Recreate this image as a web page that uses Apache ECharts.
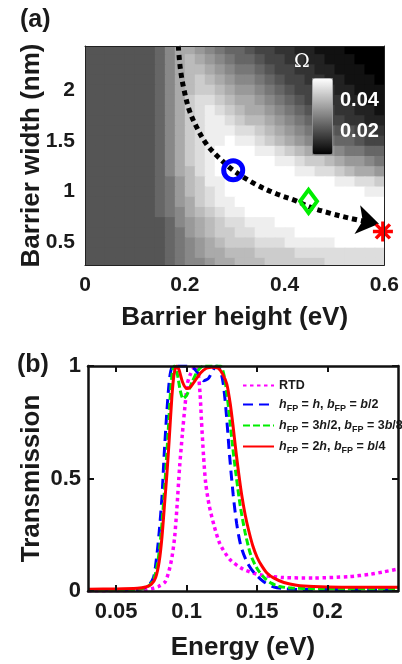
<!DOCTYPE html>
<html>
<head>
<meta charset="utf-8">
<script src="https://cdn.jsdelivr.net/npm/echarts@6/dist/echarts.min.js"></script>
<style>
  html, body { margin: 0; padding: 0; background: #fff; }
  #chart { width: 402px; height: 664px; }
</style>
</head>
<body>
<div id="chart"></div>
<script>
// ─── (a) Ω map over barrier height / barrier width ───────────────

// cell centres of the map
const H_COLS = [0.01, 0.03, 0.05, 0.07, 0.09, 0.11, 0.13, 0.15, 0.17, 0.19,
                0.21, 0.23, 0.25, 0.27, 0.29, 0.31, 0.33, 0.35, 0.37, 0.39,
                0.41, 0.43, 0.45, 0.47, 0.49, 0.51, 0.53, 0.55, 0.57, 0.59];
const B_ROWS = [2.4, 2.3, 2.2, 2.1, 2.0, 1.9, 1.8, 1.7, 1.6, 1.5, 1.4,
                1.3, 1.2, 1.1, 1.0, 0.9, 0.8, 0.7, 0.6, 0.5, 0.4, 0.3];

// Ω, one hex digit per cell (0 = OMEGA_MIN … F = OMEGA_MAX)
const OMEGA_ROWS = [
  "555555568AA9876654433221110000",
  "555555568ABA987665443322111000",
  "555555568ABBA98776544332211100",
  "555555568ABCBA9887654433221110",
  "555555568ABCCBA998765443322111",
  "555555568ACDDCBAA9876544332211",
  "555555568ACDEDCBAA987654433221",
  "555555568ACDEEDCBBA98765443322",
  "555555568ACDEEEDDCBA9877655443",
  "555555568ACDEEFEEDCBA988766544",
  "555555568ACDEFFFFEEDCBA9987766",
  "555555568ACDEFFFFFFEEDCCBA9987",
  "555555568ABDEFFFFFFFFEEDDCBAA9",
  "5555555679BCEEFFFFFFFFFFFEEDDC",
  "5555555679BCDEFFFFFFFFFFFFFFEE",
  "5555555679ACDEEFFFFFFFFFFFFFFF",
  "5555555678ABCDEEFFFFFFFFFFFFFF",
  "55555555689ABCDDEEEFFFFFFFFFFF",
  "55555555679ABCCDDEEEEFFFFFFFFF",
  "555555556789ABCCCDDDEEEEEFFFFF",
  "555555556789AABBBCCCCDDDDDDDDD",
  "5555555567889AABBBCCCCCCDDDDDD",
];
const OMEGA_MIN = 0.006;
const OMEGA_MAX = 0.054;
const OMEGA_TICKS = [0.02, 0.04];

// dotted path of the optimum (barrier height eV, barrier width nm)
const PATH_H = [0.187, 0.191, 0.198, 0.209, 0.223, 0.243, 0.267, 0.297, 0.343, 0.383, 0.423, 0.45, 0.49, 0.53, 0.57];
const PATH_B = [2.43, 2.21, 2.01, 1.80, 1.64, 1.47, 1.34, 1.21, 1.07, 0.98, 0.91, 0.85, 0.79, 0.74, 0.70];
const ARROW_SEGMENT = [[0.56, 0.712], [0.589, 0.684]];

// marked designs
const POINT_RTD = [0.297, 1.21];
const POINT_MID = [0.448, 0.905];
const POINT_END = [0.597, 0.61];

// ─── (b) transmission spectra ────────────────────────────────────

const CURVE_RTD = [
  [0.03, 0.001], [0.05, 0.002], [0.06, 0.003], [0.07, 0.006], [0.075, 0.01], [0.08, 0.02],
  [0.0847, 0.04], [0.0875, 0.09], [0.0896, 0.15], [0.0915, 0.24], [0.093, 0.36], [0.095, 0.55],
  [0.097, 0.70], [0.0988, 0.82], [0.1005, 0.92], [0.1024, 0.96], [0.105, 0.99], [0.1065, 1.0],
  [0.108, 0.98], [0.1095, 0.88], [0.1105, 0.76], [0.112, 0.6], [0.1135, 0.48], [0.116, 0.38],
  [0.1195, 0.29], [0.1236, 0.21], [0.1307, 0.14], [0.14, 0.097], [0.152, 0.072], [0.168, 0.06],
  [0.19, 0.058], [0.2156, 0.064], [0.23, 0.074], [0.239, 0.084], [0.25, 0.098],
];
const CURVE_FP1 = [
  [0.03, 0.004], [0.06, 0.005], [0.068, 0.01], [0.073, 0.025], [0.0765, 0.06], [0.0785, 0.14],
  [0.0805, 0.26], [0.0825, 0.42], [0.084, 0.6], [0.086, 0.80], [0.088, 0.95], [0.0903, 1.0],
  [0.095, 1.0], [0.1, 1.0], [0.105, 0.99], [0.109, 0.96], [0.112, 0.935], [0.1155, 0.945],
  [0.119, 0.985], [0.1215, 1.0], [0.124, 0.98], [0.126, 0.92], [0.128, 0.80], [0.1305, 0.6],
  [0.133, 0.43], [0.1355, 0.3], [0.1385, 0.2], [0.1427, 0.13], [0.148, 0.08], [0.155, 0.04],
  [0.162, 0.018], [0.17, 0.01], [0.18, 0.007], [0.25, 0.006],
];
const CURVE_FP2 = [
  [0.03, 0.004], [0.06, 0.006], [0.068, 0.01], [0.073, 0.022], [0.0765, 0.05], [0.079, 0.11],
  [0.081, 0.2], [0.083, 0.34], [0.085, 0.52], [0.087, 0.72], [0.0885, 0.88], [0.09, 0.98],
  [0.0915, 1.0], [0.0935, 0.96], [0.0955, 0.89], [0.0975, 0.855], [0.1, 0.87], [0.104, 0.93],
  [0.108, 0.98], [0.112, 1.0], [0.118, 1.0], [0.124, 1.0], [0.1265, 0.96], [0.1285, 0.88],
  [0.1305, 0.77], [0.1325, 0.65], [0.135, 0.52], [0.138, 0.38], [0.1415, 0.26], [0.1455, 0.16],
  [0.15, 0.1], [0.155, 0.06], [0.16, 0.035], [0.166, 0.02], [0.175, 0.013], [0.19, 0.01], [0.25, 0.01],
];
const CURVE_FP3 = [
  [0.03, 0.008], [0.05, 0.009], [0.065, 0.012], [0.071, 0.018], [0.075, 0.03], [0.078, 0.06],
  [0.0805, 0.13], [0.0825, 0.24], [0.0845, 0.40], [0.086, 0.52], [0.0875, 0.66], [0.0895, 0.86],
  [0.091, 0.96], [0.0928, 1.0], [0.0945, 0.985], [0.097, 0.93], [0.1, 0.90], [0.1025, 0.905],
  [0.106, 0.935], [0.11, 0.97], [0.114, 0.99], [0.118, 0.995], [0.1225, 0.99], [0.1255, 0.965],
  [0.1285, 0.92], [0.131, 0.83], [0.133, 0.73], [0.135, 0.62], [0.137, 0.52], [0.139, 0.43],
  [0.1415, 0.34], [0.144, 0.27], [0.147, 0.2], [0.15, 0.15], [0.153, 0.115], [0.157, 0.08],
  [0.162, 0.057], [0.169, 0.038], [0.178, 0.026], [0.19, 0.02], [0.21, 0.017], [0.25, 0.017],
];
const ENERGY_TICKS = [0.05, 0.1, 0.15, 0.2];

const LEGEND_LABELS = {
  RTD: "RTD",
  FP1: "{i|h}{s|FP} = {i|h}, {i|b}{s|FP} = {i|b}/2",
  FP2: "{i|h}{s|FP} = 3{i|h}/2, {i|b}{s|FP} = 3{i|b}/8",
  FP3: "{i|h}{s|FP} = 2{i|h}, {i|b}{s|FP} = {i|b}/4",
};

// ─── 스타일 공통 ─────────────────────────────────────────────────

const FONT = '"Liberation Sans", Arial, Helvetica, sans-serif';
const INK = "#1a1a1a";
const tickText = { fontFamily: FONT, fontWeight: "bold", fontSize: 21, color: INK };
const nameText = { fontFamily: FONT, fontWeight: "bold", fontSize: 26, color: INK };

// map cells → [h, b, Ω]
const CELL_W = H_COLS[1] - H_COLS[0];
const CELL_H = B_ROWS[0] - B_ROWS[1];
const cells = [];
B_ROWS.forEach((b, r) => {
  H_COLS.forEach((h, c) => {
    const level = parseInt(OMEGA_ROWS[r][c], 16);
    cells.push([h, b, OMEGA_MIN + (level / 15) * (OMEGA_MAX - OMEGA_MIN)]);
  });
});

function renderCell(params, api) {
  const h = api.value(0);
  const b = api.value(1);
  const p0 = api.coord([h - CELL_W / 2, b + CELL_H / 2]);
  const p1 = api.coord([h + CELL_W / 2, b - CELL_H / 2]);
  return {
    type: "rect",
    shape: { x: p0[0], y: p0[1], width: p1[0] - p0[0] + 1, height: p1[1] - p0[1] + 1 },
    style: { fill: api.visual("color") },
  };
}

function frameAxis(extra) {
  return Object.assign({
    type: "value",
    axisLine: { show: true, onZero: false, lineStyle: { color: "#222", width: 1 } },
    axisTick: { show: false },
    axisLabel: { show: false },
    splitLine: { show: false },
    z: 10,
  }, extra);
}

const frameB = { show: true, onZero: false, lineStyle: { color: "#111", width: 2.5 } };
const tickB = { show: true, inside: true, length: 6, lineStyle: { color: "#111", width: 2 } };

function spectrum(name, data, color, type, width) {
  return {
    name, type: "line", xAxisIndex: 3, yAxisIndex: 3, data,
    symbol: "none", smooth: 0.25,
    lineStyle: { color, type, width, cap: "butt" },
    itemStyle: { color },
  };
}

const chart = echarts.init(document.getElementById("chart"), null, { renderer: "canvas" });

chart.setOption({
  backgroundColor: "#fff",
  animation: false,
  title: [
    { text: "(a)", left: 20, top: 8, padding: 0, textStyle: { fontFamily: FONT, fontWeight: "bold", fontSize: 25, color: INK } },
    { text: "(b)", left: 17, top: 353, padding: 0, textStyle: { fontFamily: FONT, fontWeight: "bold", fontSize: 25, color: INK } },
  ],
  grid: [
    { left: 85, top: 46, width: 300, height: 219 },
    { left: 312, top: 78, width: 20, height: 76 },
    { left: 88, top: 366, width: 310, height: 225 },
  ],
  visualMap: {
    type: "continuous", seriesIndex: 0, dimension: 2,
    min: OMEGA_MIN, max: OMEGA_MAX,
    inRange: { color: ["#000000", "#ffffff"] },
    left: 312, top: 78, itemWidth: 20, itemHeight: 76,
    calculable: false, hoverLink: false, padding: 0,
    borderColor: "#888", borderWidth: 1,
  },
  xAxis: [
    frameAxis({
      gridIndex: 0, min: 0, max: 0.6, interval: 0.2, position: "bottom",
      axisLabel: Object.assign({ show: true, margin: 10 }, tickText),
      name: "Barrier height (eV)", nameLocation: "middle", nameGap: 40, nameTextStyle: nameText,
      nameMoveOverlap: false,
    }),
    frameAxis({ gridIndex: 0, min: 0, max: 0.6, position: "top" }),
    { gridIndex: 1, type: "value", show: false },
    {
      gridIndex: 2, type: "value", min: 0.03, max: 0.25, position: "bottom",
      axisLine: frameB,
      axisTick: Object.assign({ customValues: ENERGY_TICKS }, tickB),
      axisLabel: Object.assign({ customValues: ENERGY_TICKS, margin: 10 }, tickText, { fontSize: 22 }),
      splitLine: { show: false },
      name: "Energy (eV)", nameLocation: "middle", nameGap: 44, nameTextStyle: nameText,
      nameMoveOverlap: false, z: 10,
    },
    {
      gridIndex: 2, type: "value", min: 0.03, max: 0.25, position: "top",
      axisLine: frameB,
      axisTick: Object.assign({ customValues: ENERGY_TICKS }, tickB),
      axisLabel: { show: false }, splitLine: { show: false }, z: 10,
    },
  ],
  yAxis: [
    frameAxis({
      gridIndex: 0, min: 0.28, max: 2.43, position: "left",
      axisLabel: Object.assign({ show: true, margin: 10, customValues: [0.5, 1, 1.5, 2] }, tickText),
      name: "Barrier width (nm)", nameLocation: "middle", nameGap: 40, nameTextStyle: nameText,
      nameMoveOverlap: false,
    }),
    frameAxis({ gridIndex: 0, min: 0.28, max: 2.43, position: "right" }),
    {
      gridIndex: 1, type: "value", position: "right", min: OMEGA_MIN, max: OMEGA_MAX, z: 10,
      axisLine: { show: false }, axisTick: { show: false }, splitLine: { show: false },
      axisLabel: Object.assign({ customValues: OMEGA_TICKS, margin: 8, formatter: (v) => v.toFixed(2) }, tickText, { color: "#fff", fontSize: 20 }),
      name: "Ω", nameLocation: "end", nameGap: 6,
      nameTextStyle: { color: "#fff", fontFamily: '"DejaVu Serif", "Liberation Serif", serif', fontSize: 19, padding: [0, 20, 0, 0] },
    },
    {
      gridIndex: 2, type: "value", min: 0, max: 1, interval: 0.5, position: "left",
      axisLine: frameB, axisTick: tickB,
      axisLabel: Object.assign({ margin: 7 }, tickText, { fontSize: 22 }),
      splitLine: { show: false },
      name: "Transmission", nameLocation: "middle", nameGap: 43, nameTextStyle: nameText,
      nameMoveOverlap: false, z: 10,
    },
    {
      gridIndex: 2, type: "value", min: 0, max: 1, interval: 0.5, position: "right",
      axisLine: frameB, axisTick: tickB, axisLabel: { show: false }, splitLine: { show: false }, z: 10,
    },
  ],
  legend: {
    data: ["RTD", "FP1", "FP2", "FP3"],
    orient: "vertical", left: 237, top: 374,
    itemWidth: 31, itemHeight: 10, itemGap: 6,
    selectedMode: false,
    itemStyle: { color: "rgba(0,0,0,0)", borderWidth: 0 },
    formatter: (name) => LEGEND_LABELS[name],
    textStyle: {
      fontFamily: FONT, fontWeight: "bold", fontSize: 12.5, color: INK,
      rich: {
        i: { fontFamily: FONT, fontWeight: "bold", fontStyle: "italic", fontSize: 12.5, color: INK },
        s: { fontFamily: FONT, fontWeight: "bold", fontSize: 9, color: INK, padding: [8, 0, 0, 0] },
      },
    },
  },
  series: [
    {
      type: "custom", xAxisIndex: 0, yAxisIndex: 0, renderItem: renderCell,
      data: cells, clip: true, silent: true, z: 1,
    },
    {
      type: "line", xAxisIndex: 0, yAxisIndex: 0, z: 3,
      data: PATH_H.map((h, i) => [h, PATH_B[i]]),
      symbol: "none", smooth: 0.35, silent: true,
      lineStyle: { color: "#000", width: 5, type: [5, 4], cap: "butt" },
    },
    {
      type: "lines", coordinateSystem: "cartesian2d", xAxisIndex: 0, yAxisIndex: 0, z: 3,
      data: [{ coords: ARROW_SEGMENT }],
      symbol: ["none", "arrow"], symbolSize: 22, silent: true,
      lineStyle: { color: "#000", width: 0, opacity: 1 },
    },
    {
      type: "scatter", xAxisIndex: 0, yAxisIndex: 0, z: 4, data: [POINT_RTD],
      symbol: "circle", symbolSize: 19, silent: true,
      itemStyle: { color: "rgba(0,0,0,0)", borderColor: "#0000ff", borderWidth: 5, opacity: 1 },
    },
    {
      type: "scatter", xAxisIndex: 0, yAxisIndex: 0, z: 4, data: [POINT_MID],
      symbol: "diamond", symbolSize: [17, 23], silent: true,
      itemStyle: { color: "rgba(0,0,0,0)", borderColor: "#00ee00", borderWidth: 4, opacity: 1 },
    },
    {
      type: "scatter", xAxisIndex: 0, yAxisIndex: 0, z: 4, data: [POINT_END],
      symbol: "path://M10,0L10,20M0,10L20,10M3,3L17,17M3,17L17,3", symbolSize: 20, silent: true,
      itemStyle: { color: "rgba(0,0,0,0)", borderColor: "#ff0000", borderWidth: 3.5, opacity: 1 },
    },
    spectrum("RTD", CURVE_RTD, "#ff00ff", [3.5, 3.5], 3.5),
    spectrum("FP1", CURVE_FP1, "#0000ff", [10, 6], 3),
    spectrum("FP2", CURVE_FP2, "#00ee00", [7, 3], 3),
    spectrum("FP3", CURVE_FP3, "#ff0000", "solid", 3),
  ],
});
</script>
</body>
</html>
